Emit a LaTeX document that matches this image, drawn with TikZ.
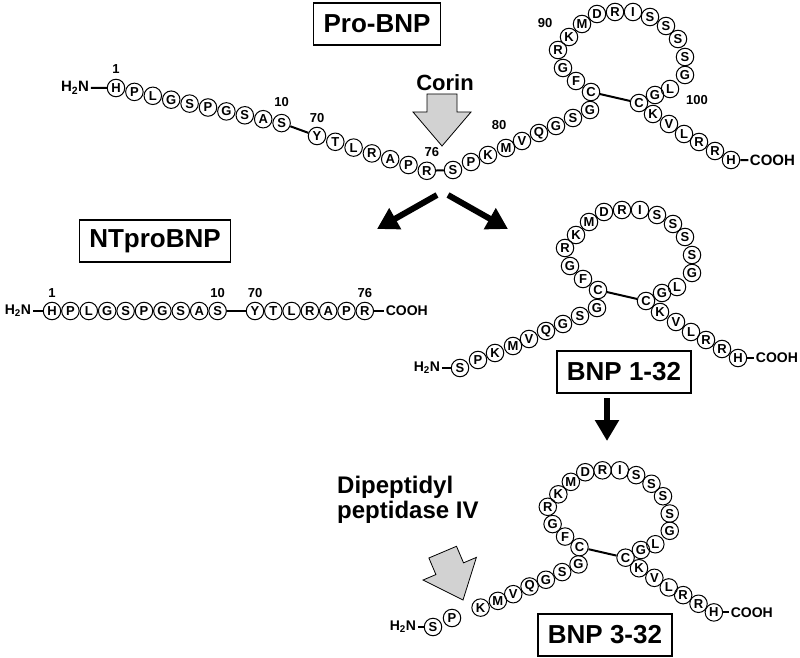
\documentclass[tikz,border=0pt]{standalone}
\usepackage{fontspec}
\setmainfont{Liberation Sans}
\usetikzlibrary{arrows.meta,positioning}

\tikzset{
  res/.style={circle,draw,line width=1pt,minimum size=17.5pt,inner sep=0pt,font=\fontsize{13}{13}\selectfont\bfseries},
  bond/.style={line width=2pt},
  num/.style={font=\fontsize{13}{13}\selectfont\bfseries,inner sep=0pt},
  endgrp/.style={font=\fontsize{14}{14}\selectfont\bfseries,inner sep=1.5pt},
  namebox/.style={draw,line width=1.2pt,font=\fontsize{26}{26}\selectfont\bfseries,inner xsep=10pt,minimum height=42pt},
  enzyme/.style={font=\fontsize{22}{25}\selectfont\bfseries,align=left,inner sep=0pt},
  fatarrow/.style={line width=6pt,-{Triangle[length=21pt,width=23pt]}},
}

% BNP-32 hairpin: #1 name prefix, #2 first residue drawn
\newcommand{\bnploop}[2]{%
  \foreach \aa/\px/\py [count=\i] in {S/0/0,P/18/-8,K/35/-15,M/53/-22,V/69/-29,Q/86/-37,G/103/-44,S/120/-52,G/137/-60,
      C/138/-78,F/123/-89,G/110/-102,R/105/-120,K/116/-133,M/129/-146,D/144/-156,R/162/-158,I/180/-158,S/197/-153,
      S/213/-144,S/225/-131,S/232/-113,G/232/-95,L/217/-81,G/202/-75,C/186/-67,
      K/200/-56,V/216/-46,L/231/-36,R/246/-28,R/262/-19,H/278/-10}{%
    \ifnum\i<#2\relax\else
      \node[res] (#1\i) at (\px,\py) {\aa};
    \fi}
  \draw[bond] (#110) -- (#126);
}
% grey cleavage arrow, tip at the origin
\newcommand{\blockarrow}{%
  \filldraw[fill=gray!35,line width=0.8pt] (-15,-52) -- (-15,-34) -- (-29,-34) -- (0,0) -- (29,-34) -- (15,-34) -- (15,-52) -- cycle;}

\begin{document}
\begin{tikzpicture}[x=1pt,y=-1pt]
  \useasboundingbox (0,0) rectangle (800,658);

  % pro-BNP
  \node[namebox] (probox) at (377,24) {Pro-BNP};
  \foreach \aa [count=\i] in {H,P,L,G,S,P,G,S,A,S}
    \node[res] (pa\i) at ({116+18.4*(\i-1)},{88+3.9*(\i-1)}) {\aa};
  \foreach \aa [count=\i] in {Y,T,L,R,A,P,R}
    \node[res] (pb\i) at ({317+18.3*(\i-1)},{136+5.8*(\i-1)}) {\aa};
  \begin{scope}[shift={(453,170)}]
    \bnploop{top}{1}
  \end{scope}
  \node[endgrp,font=\fontsize{15}{15}\selectfont\bfseries,left=16pt of pa1] (proN) {H\textsubscript{2}N};
  \node[endgrp,font=\fontsize{15}{15}\selectfont\bfseries,right=8pt of top32] (proC) {COOH};
  \draw[bond] (proN) -- (pa1) (pa10) -- (pb1) (pb7) -- (top1) (top32) -- (proC);
  \node[num,above=5pt of pa1] (l1) {1};
  \node[num,above=7pt of pa10] (l10) {10};
  \node[num,above=4pt of pb1] (l70) {70};
  \node[num,above=5pt of pb7,xshift=5pt] (l76) {76};
  \node[num] (l80) at ([shift={(-7,-23)}]top4) {80};
  \node[num] (l90) at ([shift={(-24,-14)}]top14) {90};
  \node[num] (l100) at ([shift={(27,11)}]top24) {100};

  \node[enzyme] (corin) at (445,83) {Corin};
  \begin{scope}[shift={(442,146)}]
    \blockarrow
  \end{scope}

  \coordinate (cutL) at (437,195);
  \coordinate (cutR) at (448,195);
  \coordinate (toNT) at (377,229);
  \coordinate (toBNP) at (508,229);
  \draw[fatarrow] (cutL) -- (toNT);
  \draw[fatarrow] (cutR) -- (toBNP);

  % NT-proBNP
  \node[namebox] (ntbox) at (155,241) {NTproBNP};
  \foreach \aa [count=\i] in {H,P,L,G,S,P,G,S,A,S}
    \node[res] (na\i) at ({52+18.4*(\i-1)},311) {\aa};
  \foreach \aa [count=\i] in {Y,T,L,R,A,P,R}
    \node[res] (nb\i) at ({255+18.3*(\i-1)},311) {\aa};
  \node[endgrp,left=10pt of na1] (ntN) {H\textsubscript{2}N};
  \node[endgrp,right=10pt of nb7] (ntC) {COOH};
  \draw[bond] (ntN) -- (na1) (na10) -- (nb1) (nb7) -- (ntC);
  \node[num,above=4pt of na1] (n1) {1};
  \node[num,above=4pt of na10] (n10) {10};
  \node[num,above=4pt of nb1] (n70) {70};
  \node[num,above=4pt of nb7] (n76) {76};

  % BNP 1-32
  \begin{scope}[shift={(460,368)}]
    \bnploop{mid}{1}
  \end{scope}
  \node[endgrp,left=9pt of mid1] (midN) {H\textsubscript{2}N};
  \node[endgrp,right=7pt of mid32] (midC) {COOH};
  \draw[bond] (midN) -- (mid1) (mid32) -- (midC);
  \node[namebox] (midbox) at (624,372) {BNP 1-32};

  \coordinate (stepA) at (607,398);
  \coordinate (stepB) at (607,441);
  \draw[fatarrow] (stepA) -- (stepB);

  % BNP 3-32
  \begin{scope}[shift={(447,622)},scale=0.96]
    \bnploop{low}{3}
  \end{scope}
  \node[res] (low1) at (433,627) {S};
  \node[res] (low2) at (452,618) {P};
  \node[endgrp,left=6pt of low1] (lowN) {H\textsubscript{2}N};
  \node[endgrp,right=6pt of low32] (lowC) {COOH};
  \draw[bond] (lowN) -- (low1) (low32) -- (lowC);
  \node[namebox] (lowbox) at (605,635) {BNP 3-32};

  \node[enzyme,font=\fontsize{24}{25}\selectfont\bfseries,anchor=west] (dpp) at (337,500) {Dipeptidyl\\peptidase IV};
  \begin{scope}[shift={(463,600)},rotate=23]
    \blockarrow
  \end{scope}
\end{tikzpicture}
\end{document}
